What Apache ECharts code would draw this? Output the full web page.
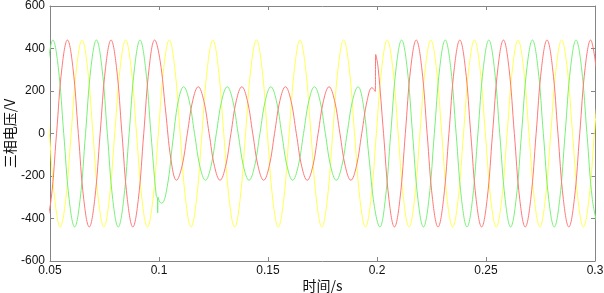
<!DOCTYPE html>
<html><head><meta charset="utf-8">
<script src="https://cdn.jsdelivr.net/npm/echarts@6/dist/echarts.min.js"></script>
<style>html,body{margin:0;padding:0;background:#fff}#c{width:604px;height:293px}</style>
</head><body><div id="c"></div>
<script>
// tick labels
const xTicks = [0.05, 0.1, 0.15, 0.2, 0.25, 0.3];
const yTicks = [-600, -400, -200, 0, 200, 400, 600];
const xName = '时间/s';
const yName = '三相电压/V';

// phase A (yellow) : [time s, voltage V]
const phaseA = [[0.0472,311],[0.0497,0],[0.0522,-311],[0.0547,-440],[0.0572,-311],[0.0597,0],[0.0622,311],[0.0647,440],
[0.0672,311],[0.0697,0],[0.0722,-311],[0.0747,-440],[0.0772,-311],[0.0797,0],[0.0822,311],[0.0847,440],
[0.0872,311],[0.0897,0],[0.0922,-311],[0.0947,-440],[0.0972,-311],[0.0997,0],[0.1022,311],[0.1047,440],
[0.1072,311],[0.1097,0],[0.1122,-311],[0.1147,-440],[0.1172,-311],[0.1197,0],[0.1222,311],[0.1247,440],
[0.1272,311],[0.1297,0],[0.1322,-311],[0.1347,-440],[0.1372,-311],[0.1397,0],[0.1422,311],[0.1447,440],
[0.1472,311],[0.1497,0],[0.1522,-311],[0.1547,-440],[0.1572,-311],[0.1597,0],[0.1622,311],[0.1647,440],
[0.1672,311],[0.1697,0],[0.1722,-311],[0.1747,-440],[0.1772,-311],[0.1797,0],[0.1822,311],[0.1847,440],
[0.1872,311],[0.1897,0],[0.1922,-311],[0.1947,-440],[0.1972,-311],[0.1997,0],[0.2022,311],[0.2047,440],
[0.2072,311],[0.2097,0],[0.2122,-311],[0.2147,-440],[0.2172,-311],[0.2197,0],[0.2222,311],[0.2247,440],
[0.2272,311],[0.2297,0],[0.2322,-311],[0.2347,-440],[0.2372,-311],[0.2397,0],[0.2422,311],[0.2447,440],
[0.2472,311],[0.2497,0],[0.2522,-311],[0.2547,-440],[0.2572,-311],[0.2597,0],[0.2622,311],[0.2647,440],
[0.2672,311],[0.2697,0],[0.2722,-311],[0.2747,-440],[0.2772,-311],[0.2797,0],[0.2822,311],[0.2847,440],
[0.2872,311],[0.2897,0],[0.2922,-311],[0.2947,-440],[0.2972,-311],[0.2997,0],[0.3022,311]];

// phase B (green)
const phaseB = [[0.0488,311],[0.0513,440],[0.0538,311],[0.0563,0],[0.0588,-311],[0.0613,-440],[0.0638,-311],[0.0663,0],
[0.0688,311],[0.0713,440],[0.0738,311],[0.0763,0],[0.0788,-311],[0.0813,-440],[0.0838,-311],[0.0863,0],
[0.0888,311],[0.0913,440],[0.0938,311],[0.0963,0],[0.0987,-290],[0.0993,-305],[0.0994,-374],[0.0996,-300],
[0.1003,-322],[0.1013,-328],[0.1038,-248],[0.1063,-40],[0.1088,150],[0.1113,220],[0.1138,156],[0.1163,0],
[0.1188,-156],[0.1213,-220],[0.1238,-156],[0.1263,0],[0.1288,156],[0.1313,220],[0.1338,156],[0.1363,0],
[0.1388,-156],[0.1413,-220],[0.1438,-156],[0.1463,0],[0.1488,156],[0.1513,220],[0.1538,156],[0.1563,0],
[0.1588,-156],[0.1613,-220],[0.1638,-156],[0.1663,0],[0.1688,156],[0.1713,220],[0.1738,156],[0.1763,0],
[0.1788,-156],[0.1813,-220],[0.1838,-156],[0.1863,0],[0.1888,156],[0.1913,220],[0.1938,130],[0.1963,-110],
[0.1988,-343],[0.2013,-440],[0.2038,-311],[0.2063,0],[0.2088,311],[0.2113,440],[0.2138,311],[0.2163,0],
[0.2188,-311],[0.2213,-440],[0.2238,-311],[0.2263,0],[0.2288,311],[0.2313,440],[0.2338,311],[0.2363,0],
[0.2388,-311],[0.2413,-440],[0.2438,-311],[0.2463,0],[0.2488,311],[0.2513,440],[0.2538,311],[0.2563,0],
[0.2588,-311],[0.2613,-440],[0.2638,-311],[0.2663,0],[0.2688,311],[0.2713,440],[0.2738,311],[0.2763,0],
[0.2788,-311],[0.2813,-440],[0.2838,-311],[0.2863,0],[0.2888,311],[0.2913,440],[0.2938,311],[0.2963,0],
[0.2988,-311],[0.3013,-440]];

// phase C (red)
const phaseC = [[0.0480,-440],[0.0505,-311],[0.0530,0],[0.0555,311],[0.0580,440],[0.0605,311],[0.0630,0],[0.0655,-311],
[0.0680,-440],[0.0705,-311],[0.0730,0],[0.0755,311],[0.0780,440],[0.0805,311],[0.0830,0],[0.0855,-311],
[0.0880,-440],[0.0905,-311],[0.0930,0],[0.0955,311],[0.0980,440],[0.1005,343],[0.1030,110],[0.1055,-123],
[0.1080,-220],[0.1105,-156],[0.1130,0],[0.1155,156],[0.1180,220],[0.1205,156],[0.1230,0],[0.1255,-156],
[0.1280,-220],[0.1305,-156],[0.1330,0],[0.1355,156],[0.1380,220],[0.1405,156],[0.1430,0],[0.1455,-156],
[0.1480,-220],[0.1505,-156],[0.1530,0],[0.1555,156],[0.1580,220],[0.1605,156],[0.1630,0],[0.1655,-156],
[0.1680,-220],[0.1705,-156],[0.1730,0],[0.1755,156],[0.1780,220],[0.1805,156],[0.1830,0],[0.1855,-156],
[0.1880,-220],[0.1905,-156],[0.1930,0],[0.1955,156],[0.1977,216],[0.1992,198],[0.1994,372],[0.2005,311],
[0.2030,0],[0.2055,-311],[0.2080,-440],[0.2105,-311],[0.2130,0],[0.2155,311],[0.2180,440],[0.2205,311],
[0.2230,0],[0.2255,-311],[0.2280,-440],[0.2305,-311],[0.2330,0],[0.2355,311],[0.2380,440],[0.2405,311],
[0.2430,0],[0.2455,-311],[0.2480,-440],[0.2505,-311],[0.2530,0],[0.2555,311],[0.2580,440],[0.2605,311],
[0.2630,0],[0.2655,-311],[0.2680,-440],[0.2705,-311],[0.2730,0],[0.2755,311],[0.2780,440],[0.2805,311],
[0.2830,0],[0.2855,-311],[0.2880,-440],[0.2905,-311],[0.2930,0],[0.2955,311],[0.2980,440],[0.3005,311]];

const axisGray = '#858585';
const labelFont = {fontFamily: 'Liberation Sans, Arial, sans-serif', fontSize: 12, color: '#111'};
const xMin = xTicks[0], xMax = xTicks[xTicks.length - 1];
const yMin = yTicks[0], yMax = yTicks[yTicks.length - 1];
const xStep = 0.05, yStep = 200;

function fmtX(v) { return String(parseFloat(v.toFixed(2))); }

const baseX = {
  type: 'value', min: xMin, max: xMax, interval: xStep,
  axisLine: {show: true, onZero: false, lineStyle: {color: axisGray, width: 1}},
  axisTick: {show: true, inside: true, length: 4, lineStyle: {color: axisGray}},
  splitLine: {show: false}
};
const baseY = {
  type: 'value', min: yMin, max: yMax, interval: yStep,
  axisLine: {show: true, onZero: false, lineStyle: {color: axisGray, width: 1}},
  axisTick: {show: true, inside: true, length: 4, lineStyle: {color: axisGray}},
  splitLine: {show: false}
};

const lineSeries = (data, color) => ({
  type: 'line', data: data, showSymbol: false, symbol: 'none',
  smooth: 0.4, clip: true, xAxisIndex: 0, yAxisIndex: 0,
  lineStyle: {color: color, width: 1}, emphasis: {disabled: true}
});

const chart = echarts.init(document.getElementById('c'), null, {renderer: 'canvas'});
chart.setOption({
  animation: false,
  backgroundColor: '#fff',
  grid: {left: 50, right: 9, top: 6, bottom: 32, containLabel: false, outerBoundsMode: 'none'},
  xAxis: [
    Object.assign({}, baseX, {
      position: 'bottom',
      axisLabel: Object.assign({margin: 4, formatter: fmtX}, labelFont),
      name: xName, nameLocation: 'middle', nameGap: 17, nameMoveOverlap: false,
      nameTextStyle: {fontFamily: 'Noto Sans CJK SC, sans-serif', fontSize: 14, color: '#111', lineHeight: 16, verticalAlign: 'top'}
    }),
    Object.assign({}, baseX, {position: 'top', axisLabel: {show: false}})
  ],
  yAxis: [
    Object.assign({}, baseY, {
      position: 'left',
      axisLabel: Object.assign({margin: 5}, labelFont),
      name: yName, nameLocation: 'middle', nameGap: 32, nameMoveOverlap: false,
      nameTextStyle: {fontFamily: 'Noto Sans CJK SC, sans-serif', fontSize: 14, color: '#111', lineHeight: 16}
    }),
    Object.assign({}, baseY, {position: 'right', axisLabel: {show: false}})
  ],
  series: [
    lineSeries(phaseA, '#ffff50'),
    lineSeries(phaseB, '#78f078'),
    lineSeries(phaseC, '#ff7878')
  ]
});
</script></body></html>
